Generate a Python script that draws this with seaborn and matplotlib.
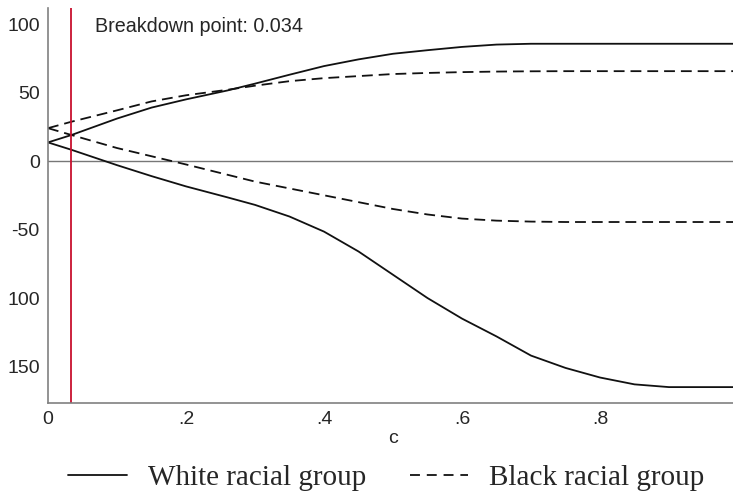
import numpy as np
import pandas as pd
import seaborn as sns
import matplotlib
matplotlib.use('Agg')
import matplotlib.pyplot as plt
from matplotlib.lines import Line2D

# values
c = [0, 0.034, 0.1, 0.15, 0.2, 0.26, 0.3, 0.35, 0.4, 0.45, 0.5,
     0.55, 0.6, 0.65, 0.7, 0.75, 0.8, 0.85, 0.9, 0.95, 1.0]
white_upper = [13.6, 19, 31, 39, 45, 51.5, 56.5, 63, 69.3, 74.2, 78.3,
               80.9, 83.3, 85, 85.6, 85.6, 85.6, 85.6, 85.6, 85.6, 85.6]
white_lower = [13.6, 8.2, -3, -11, -18.5, -26.5, -32, -40.5, -51.5, -66, -83,
               -100, -115, -128, -142, -151, -158, -163, -165, -165, -165]
black_upper = [24, 28.7, 37, 43.5, 48, 52, 55, 58.3, 60.5, 62, 63.5,
               64.3, 64.9, 65.3, 65.5, 65.6, 65.6, 65.6, 65.6, 65.6, 65.6]
black_lower = [24, 19, 9.5, 3.5, -2.5, -10, -15, -20, -25, -30, -35,
               -39, -42, -43.5, -44.2, -44.5, -44.5, -44.5, -44.5, -44.5, -44.5]
breakdown = 0.034
groups = ['White racial group', 'Black racial group']
yticks = [100, 50, 0, -50, -100, -150]
ytick_labels = ['100', '50', '0', '-50', '100', '150']
xticks = [0, 0.2, 0.4, 0.6, 0.8, 1.0]
xtick_labels = ['0', '.2', '.4', '.6', '.8', '1']

frames = []
for grp, bound, vals in [(groups[0], 'upper', white_upper), (groups[0], 'lower', white_lower),
                         (groups[1], 'upper', black_upper), (groups[1], 'lower', black_lower)]:
    frames.append(pd.DataFrame({'c': c, 'value': vals, 'group': grp, 'bound': grp + bound}))
df = pd.concat(frames, ignore_index=True)

sns.set_style('white')
plt.rcParams['font.family'] = ['Liberation Sans', 'DejaVu Sans']

fig = plt.figure(figsize=(7.33, 4.92), dpi=100)
ax = fig.add_axes([48 / 733, 89 / 492, 690 / 733, 395 / 492])

sns.lineplot(data=df, x='c', y='value', style='group', units='bound', estimator=None,
             color='#111111', linewidth=1.3, dashes={groups[0]: '', groups[1]: (6, 3.3)},
             legend=False, ax=ax)

ax.axhline(0, color='#777777', linewidth=1.0, zorder=0)
ax.axvline(breakdown, color='#c8102e', linewidth=1.3)
ax.text(0.068, 98.5, 'Breakdown point: {0}'.format(breakdown), fontsize=14.2, va='center', ha='left')

ax.set_xlim(0, 1)
ax.set_ylim(-176.6, 111.7)
ax.set_xticks(xticks)
ax.set_xticklabels(xtick_labels, fontsize=14)
ax.set_yticks(yticks)
ax.set_yticklabels(ytick_labels, fontsize=14)
ax.tick_params(length=0, pad=6)
ax.set_xlabel('c', fontsize=14, labelpad=1)
ax.set_ylabel('')

for side in ['top', 'right']:
    ax.spines[side].set_visible(False)
for side in ['left', 'bottom']:
    ax.spines[side].set_color('#808080')
    ax.spines[side].set_linewidth(1.2)

handles = [Line2D([], [], color='#111111', linewidth=1.3),
           Line2D([], [], color='#111111', linewidth=1.3, dashes=(5.5, 3.8))]
fig.legend(handles, groups, loc='center', bbox_to_anchor=(0.527, 0.029), ncol=2, frameon=False,
           prop={'family': ['Liberation Serif'], 'size': 21}, handlelength=2.0,
           handletextpad=0.72, columnspacing=1.5, borderaxespad=0, borderpad=0)

fig.savefig('out.png', dpi=100)
